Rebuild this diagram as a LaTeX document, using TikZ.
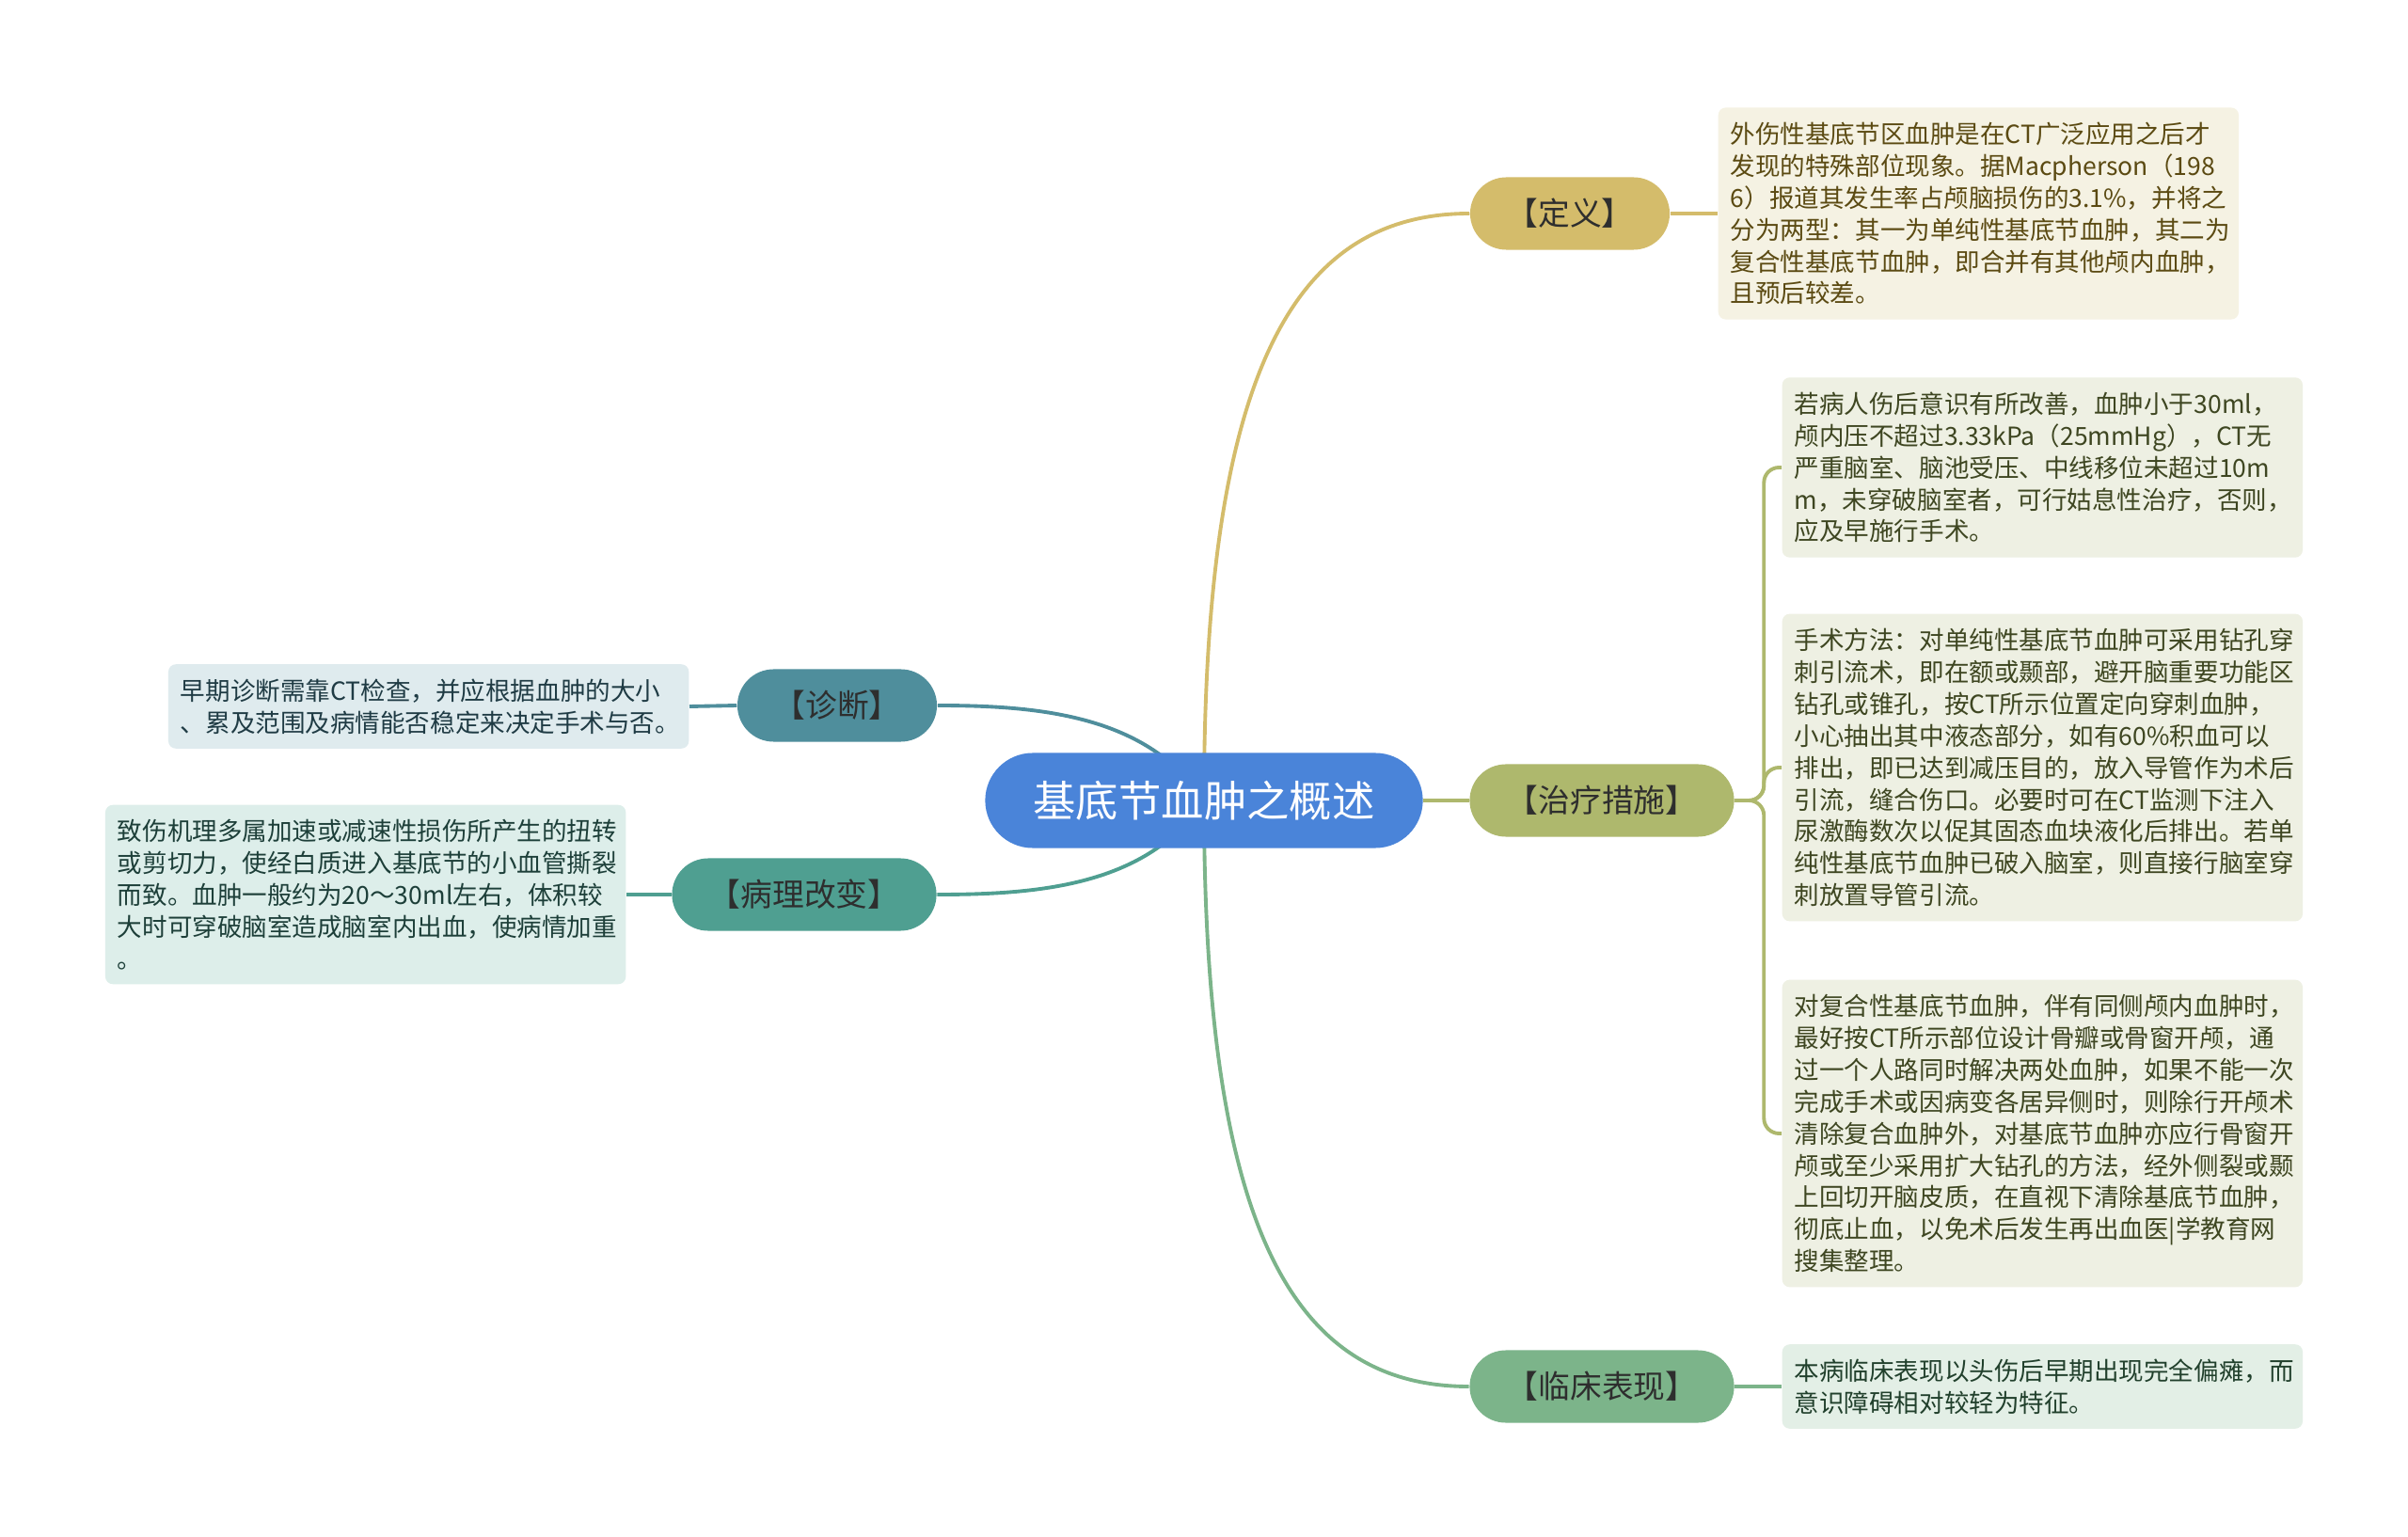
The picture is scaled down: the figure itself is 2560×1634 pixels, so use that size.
\documentclass[tikz,border=0pt]{standalone}
\usepackage{fontspec}
\setmainfont{Noto Sans CJK SC}
\usetikzlibrary{positioning, backgrounds, calc}
\definecolor{rootblue}{HTML}{4A84D9}
\definecolor{defgold}{HTML}{D4BC6B}
\definecolor{defbg}{HTML}{F5F2E3}
\definecolor{deftx}{HTML}{5B4A12}
\definecolor{trolive}{HTML}{AEB86D}
\definecolor{trbg}{HTML}{EEF0E3}
\definecolor{trtx}{HTML}{3E4621}
\definecolor{clgreen}{HTML}{7CB48A}
\definecolor{clbg}{HTML}{E3EFE6}
\definecolor{cltx}{HTML}{21402C}
\definecolor{dgteal}{HTML}{4F8E9C}
\definecolor{dgbg}{HTML}{DFEBEE}
\definecolor{dgtx}{HTML}{1F3B44}
\definecolor{ptteal}{HTML}{4F9F91}
\definecolor{ptbg}{HTML}{DDEEEA}
\definecolor{pttx}{HTML}{1D3F39}
\definecolor{labeltx}{HTML}{2E2E2E}

\begin{document}
\begin{tikzpicture}[x=0.01cm, y=-0.01cm,
    pill/.style={rounded corners=0.385cm, inner sep=0pt, minimum height=0.77cm,
        text=labeltx, font=\fontsize{9.6pt}{11pt}\selectfont},
    note/.style={rounded corners=0.08cm, inner xsep=0.13cm, inner ysep=4.4pt,
        text width=5.27cm, align=left, font=\fontsize{7.55pt}{9.64pt}\selectfont},
    link/.style={line width=1.1pt}]
    \useasboundingbox (0,0) rectangle (2560,1634);

    % centre and main branches
    \node[fill=rootblue, rounded corners=0.505cm, minimum width=4.65cm, minimum height=1.01cm,
        inner sep=0pt, text=white, font=\fontsize{12.9pt}{14pt}\selectfont] (root) at (1280,851) {基底节血肿之概述};
    \node[pill, fill=defgold, minimum width=2.12cm] (def) at (1669,227) {【定义】};
    \node[pill, fill=trolive, minimum width=2.81cm] (treat) at (1703,851) {【治疗措施】};
    \node[pill, fill=clgreen, minimum width=2.81cm] (clin) at (1703,1474) {【临床表现】};
    \node[pill, fill=dgteal, minimum width=2.12cm] (diag) at (890,750) {【诊断】};
    \node[pill, fill=ptteal, minimum width=2.81cm] (patho) at (855,951) {【病理改变】};

    % text boxes
    \node[note, fill=defbg, text=deftx, anchor=west] (defbox) at (1826,227)
        {外伤性基底节区血肿是在CT广泛应用之后才\\发现的特殊部位现象。据Macpherson（198\\6）报道其发生率占颅脑损伤的3.1\%，并将之\\分为两型：其一为单纯性基底节血肿，其二为\\复合性基底节血肿，即合并有其他颅内血肿，\\且预后较差。};
    \node[note, fill=trbg, text=trtx, anchor=west] (trbox1) at (1894,497)
        {若病人伤后意识有所改善，血肿小于30ml，\\颅内压不超过3.33kPa（25mmHg），CT无\\严重脑室、脑池受压、中线移位未超过10m\\m，未穿破脑室者，可行姑息性治疗，否则，\\应及早施行手术。};
    \node[note, fill=trbg, text=trtx, anchor=west] (trbox2) at (1894,816)
        {手术方法：对单纯性基底节血肿可采用钻孔穿\\刺引流术，即在额或颞部，避开脑重要功能区\\钻孔或锥孔，按CT所示位置定向穿刺血肿，\\小心抽出其中液态部分，如有60\%积血可以\\排出，即已达到减压目的，放入导管作为术后\\引流，缝合伤口。必要时可在CT监测下注入\\尿激酶数次以促其固态血块液化后排出。若单\\纯性基底节血肿已破入脑室，则直接行脑室穿\\刺放置导管引流。};
    \node[note, fill=trbg, text=trtx, anchor=west] (trbox3) at (1894,1205)
        {对复合性基底节血肿，伴有同侧颅内血肿时，\\最好按CT所示部位设计骨瓣或骨窗开颅，通\\过一个人路同时解决两处血肿，如果不能一次\\完成手术或因病变各居异侧时，则除行开颅术\\清除复合血肿外，对基底节血肿亦应行骨窗开\\颅或至少采用扩大钻孔的方法，经外侧裂或颞\\上回切开脑皮质，在直视下清除基底节血肿，\\彻底止血，以免术后发生再出血医|学教育网\\搜集整理。};
    \node[note, fill=clbg, text=cltx, anchor=west] (clbox) at (1894,1474)
        {本病临床表现以头伤后早期出现完全偏瘫，而\\意识障碍相对较轻为特征。};
    \node[note, fill=dgbg, text=dgtx, anchor=east] (dgbox) at (733,751)
        {早期诊断需靠CT检查，并应根据血肿的大小\\、累及范围及病情能否稳定来决定手术与否。};
    \node[note, fill=ptbg, text=pttx, anchor=east] (ptbox) at (666,951)
        {致伤机理多属加速或减速性损伤所产生的扭转\\或剪切力，使经白质进入基底节的小血管撕裂\\而致。血肿一般约为20～30ml左右，体积较\\大时可穿破脑室造成脑室内出血，使病情加重\\。};

    % connectors behind the nodes
    \begin{scope}[on background layer]
        \fill[white] (0,0) rectangle (2560,1634);
        \draw[link, draw=defgold] (root.center) .. controls +(0,-450) and +(-190,0) .. (def.west);
        \draw[link, draw=clgreen] (root.center) .. controls +(0,450) and +(-190,0) .. (clin.west);
        \draw[link, draw=dgteal] (root.center) .. controls +(-60,-90) and +(110,0) .. (diag.east);
        \draw[link, draw=ptteal] (root.center) .. controls +(-60,90) and +(110,0) .. (patho.east);
        \draw[link, draw=trolive] (root.east) -- (treat.west);
        \draw[link, draw=defgold] (def.east) -- (defbox.west);
        \draw[link, draw=clgreen] (clin.east) -- (clbox.west);
        \draw[link, draw=dgteal] (diag.west) -- (dgbox.east);
        \draw[link, draw=ptteal] (patho.west) -- (ptbox.east);
        \foreach \b in {trbox1, trbox2, trbox3}
            \draw[link, draw=trolive, rounded corners=0.16cm] (treat.east) -- ++(31,0) |- (\b.west);
    \end{scope}
\end{tikzpicture}
\end{document}
